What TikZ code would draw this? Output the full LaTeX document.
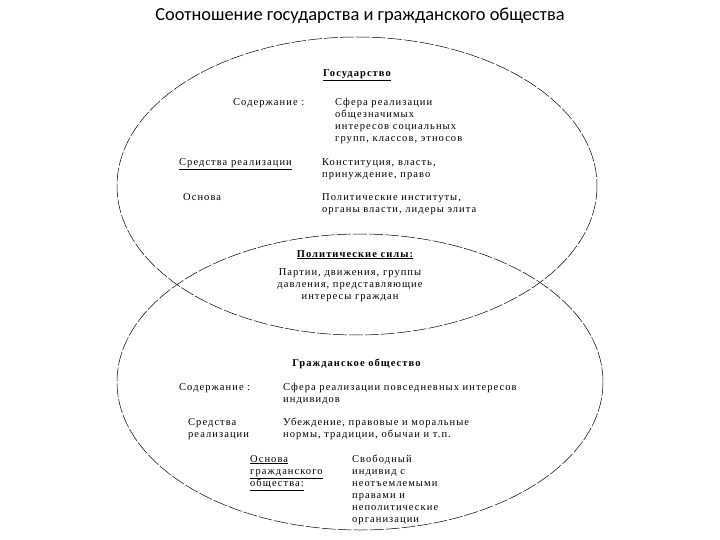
\documentclass[tikz,border=0pt]{standalone}
\usepackage{fontspec}
\setmainfont[LetterSpace=10]{Liberation Serif}
\newfontfamily\titlefont{Carlito}
\begin{document}
\begin{tikzpicture}[x=1pt,y=-1pt,
  ell/.style={line width=0.5pt, dash pattern=on 14pt off 2pt},
  txt/.style={anchor=north west, inner sep=0pt, align=left, font=\fontsize{10.5}{12}\selectfont},
  ctxt/.style={anchor=north, inner sep=0pt, align=center, font=\fontsize{10.5}{12}\selectfont}]
\useasboundingbox (0,0) rectangle (720,540);
\node[anchor=center, inner sep=0pt, font=\titlefont\fontsize{18.4}{22}\selectfont] (title) at (360,16) {Соотношение государства и гражданского общества};
% ellipses
\draw[ell] (357,186) ellipse [x radius=240, y radius=149];
\draw[ell] (360,382) ellipse [x radius=243, y radius=148];
% State
\node[ctxt] (st) at (357,69) {\textbf{\underline{Государство}}};
\node[txt] (st1l) at (233,98) {Содержание :};
\node[txt] (st1r) at (335,98) {Сфера реализации\\общезначимых\\интересов социальных\\групп, классов, этносов};
\node[txt] (st2l) at (179,158) {\underline{Средства реализации}};
\node[txt] (st2r) at (322,158) {Конституция, власть,\\принуждение, право};
\node[txt] (st3l) at (183,193) {Основа};
\node[txt] (st3r) at (322,193) {Политические институты,\\органы власти, лидеры элита};
% Political forces
\node[ctxt] (pf) at (355,250) {\textbf{\underline{Политические силы:}}};
\node[ctxt] (pf1) at (350,268) {Партии, движения, группы\\давления, представляющие\\интересы граждан};
% Civil society
\node[ctxt] (cs) at (357,359) {\textbf{Гражданское общество}};
\node[txt] (cs1l) at (179,383) {Содержание :};
\node[txt] (cs1r) at (283,383) {Сфера реализации повседневных интересов\\индивидов};
\node[txt] (cs2l) at (188,418) {Средства\\реализации};
\node[txt] (cs2r) at (283,418) {Убеждение, правовые и моральные\\нормы, традиции, обычаи и т.п.};
\node[txt] (cs3l) at (250,455) {\underline{Основа}\\\underline{гражданского}\\\underline{общества:}};
\node[txt] (cs3r) at (352,455) {Свободный\\индивид с\\неотъемлемыми\\правами и\\неполитические\\организации};
\end{tikzpicture}
\end{document}
